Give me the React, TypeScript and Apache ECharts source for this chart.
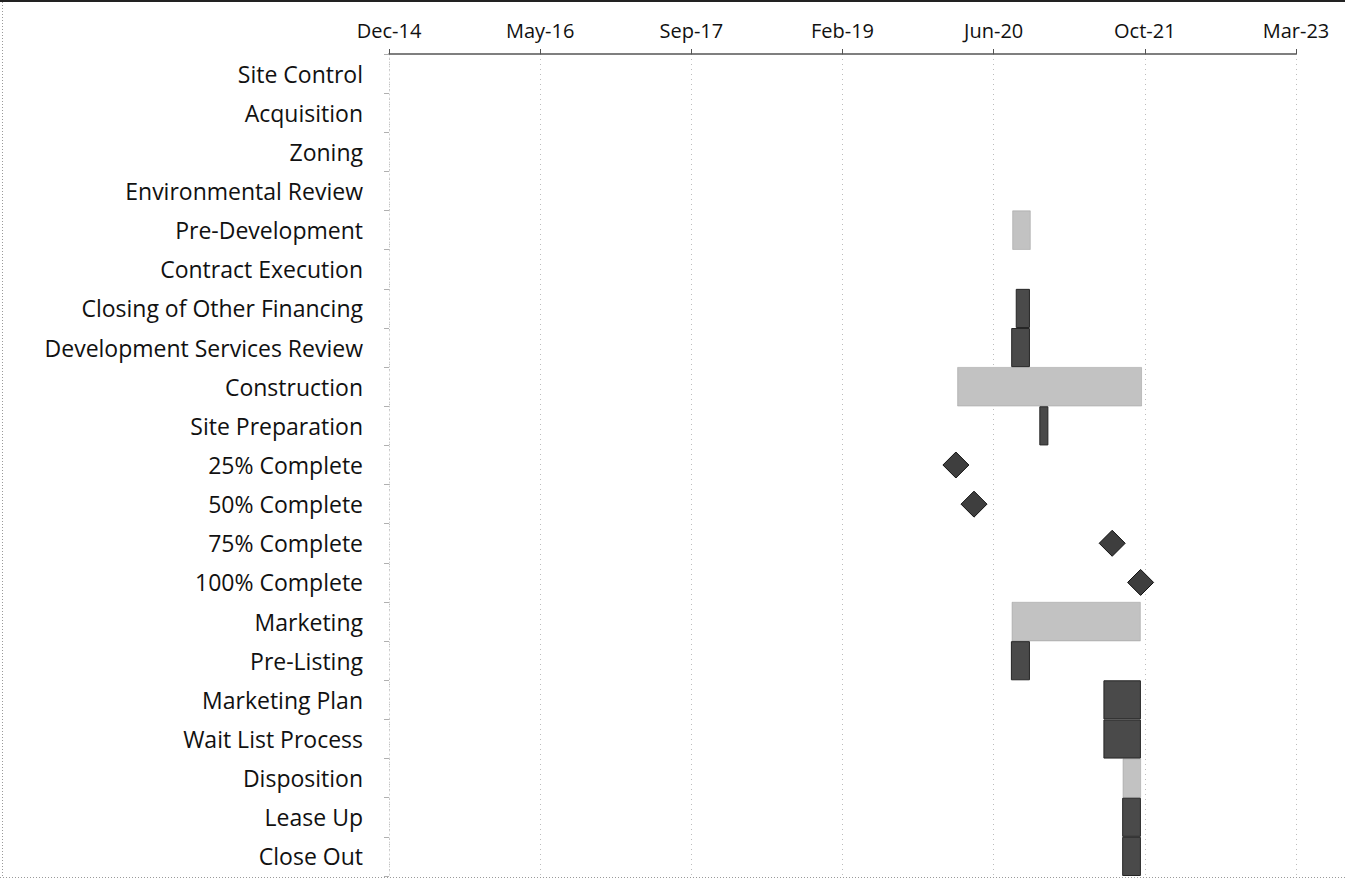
import React, { useEffect, useRef } from "react";
import * as echarts from "echarts";

// Schedule rows, top to bottom
const tasks = [
  "Site Control",
  "Acquisition",
  "Zoning",
  "Environmental Review",
  "Pre-Development",
  "Contract Execution",
  "Closing of Other Financing",
  "Development Services Review",
  "Construction",
  "Site Preparation",
  "25% Complete",
  "50% Complete",
  "75% Complete",
  "100% Complete",
  "Marketing",
  "Pre-Listing",
  "Marketing Plan",
  "Wait List Process",
  "Disposition",
  "Lease Up",
  "Close Out",
];

// Dates are spreadsheet day serials (days since 1899-12-30)
const startDay: (number | null)[] = [
  null, null, null, null, 44062, null, 44073, 44058, 43880, 44151,
  null, null, null, null, 44060, 44057, 44363, 44363, 44427, 44425, 44425,
];

// Phase durations (light bars), in days
const phaseDays: (number | null)[] = [
  null, null, null, null, 60, null, null, null, 610, null,
  null, null, null, null, 426, null, null, null, 60, null, null,
];

// Task durations (dark bars), in days
const taskDays: (number | null)[] = [
  null, null, null, null, null, null, 47, 62, null, 30,
  null, null, null, null, null, 63, 124, 124, null, 62, 62,
];

// Construction milestones
const milestoneNames = ["25% Complete", "50% Complete", "75% Complete", "100% Complete"];
const milestoneDays = [43875, 43935, 44392, 44486];

// Date axis
const axisMin = 42000;
const axisMax = 45000;
const axisStep = 500;
const monthNames = ["Jan", "Feb", "Mar", "Apr", "May", "Jun", "Jul", "Aug", "Sep", "Oct", "Nov", "Dec"];

function serialLabel(serial: number): string {
  const d = new Date(Date.UTC(1899, 11, 30) + serial * 86400000);
  const yy = String(d.getUTCFullYear() % 100).padStart(2, "0");
  return `${monthNames[d.getUTCMonth()]}-${yy}`;
}

const FONT = "'Open Sans', 'Noto Sans', sans-serif";

export default function App() {
  const ref = useRef<HTMLDivElement>(null);

  useEffect(() => {
    if (!ref.current) return;
    const chart = echarts.init(ref.current, null, { renderer: "svg" });

    const dash = (v: number | null) => (v == null ? "-" : v);

    chart.setOption({
      animation: false,
      backgroundColor: "#ffffff",
      textStyle: { fontFamily: FONT },
      grid: { left: 389, right: 49, top: 54, bottom: 4, containLabel: false },
      xAxis: {
        type: "value",
        position: "top",
        min: axisMin,
        max: axisMax,
        interval: axisStep,
        axisLine: { show: true, lineStyle: { color: "#555555", width: 1.5 } },
        axisTick: { show: true, length: 5, lineStyle: { color: "#555555" } },
        axisLabel: {
          formatter: (v: number) => serialLabel(v),
          color: "#111111",
          fontSize: 20,
          fontFamily: FONT,
          margin: 14,
        },
        splitLine: { show: true, lineStyle: { color: "#bdbdbd", type: [1, 4], width: 1 } },
      },
      yAxis: {
        type: "category",
        inverse: true,
        data: tasks,
        axisLine: { show: true, lineStyle: { color: "#d0d0d0", type: [1, 3] } },
        axisTick: { show: true, length: 5, lineStyle: { color: "#b0b0b0" } },
        axisLabel: {
          color: "#111111",
          fontSize: 23,
          fontFamily: FONT,
          margin: 26,
        },
        splitLine: { show: false },
      },
      series: [
        {
          name: "start",
          type: "bar",
          stack: "gantt",
          barCategoryGap: "0%",
          itemStyle: { color: "transparent" },
          emphasis: { disabled: true },
          data: startDay.map(dash),
        },
        {
          name: "phase",
          type: "bar",
          stack: "gantt",
          barCategoryGap: "0%",
          itemStyle: { color: "#c2c2c2", borderColor: "#9a9a9a", borderWidth: 0.5 },
          data: phaseDays.map(dash),
        },
        {
          name: "task",
          type: "bar",
          stack: "gantt",
          barCategoryGap: "0%",
          itemStyle: { color: "#4a4a4a", borderColor: "#262626", borderWidth: 1 },
          data: taskDays.map(dash),
        },
        {
          name: "milestone",
          type: "scatter",
          symbol: "diamond",
          symbolSize: 26,
          itemStyle: { color: "#3e3e3e", borderColor: "#111111", borderWidth: 1, opacity: 1 },
          data: milestoneNames.map((n, i) => [milestoneDays[i], n]),
          z: 5,
        },
      ],
      graphic: [
        {
          type: "line",
          shape: { x1: 0, y1: 1, x2: 1345, y2: 1 },
          style: { stroke: "#222222", lineWidth: 2 },
        },
        {
          type: "line",
          shape: { x1: 2.5, y1: 2, x2: 2.5, y2: 878 },
          style: { stroke: "#9a9a9a", lineWidth: 1, lineDash: [1, 2] },
        },
        {
          type: "line",
          shape: { x1: 0, y1: 877.5, x2: 1345, y2: 877.5 },
          style: { stroke: "#9a9a9a", lineWidth: 1, lineDash: [1, 2] },
        },
      ],
    });

    return () => chart.dispose();
  }, []);

  return (
    <div
      ref={ref}
      style={{ position: "fixed", left: 0, top: 0, width: 1345, height: 880 }}
    />
  );
}
